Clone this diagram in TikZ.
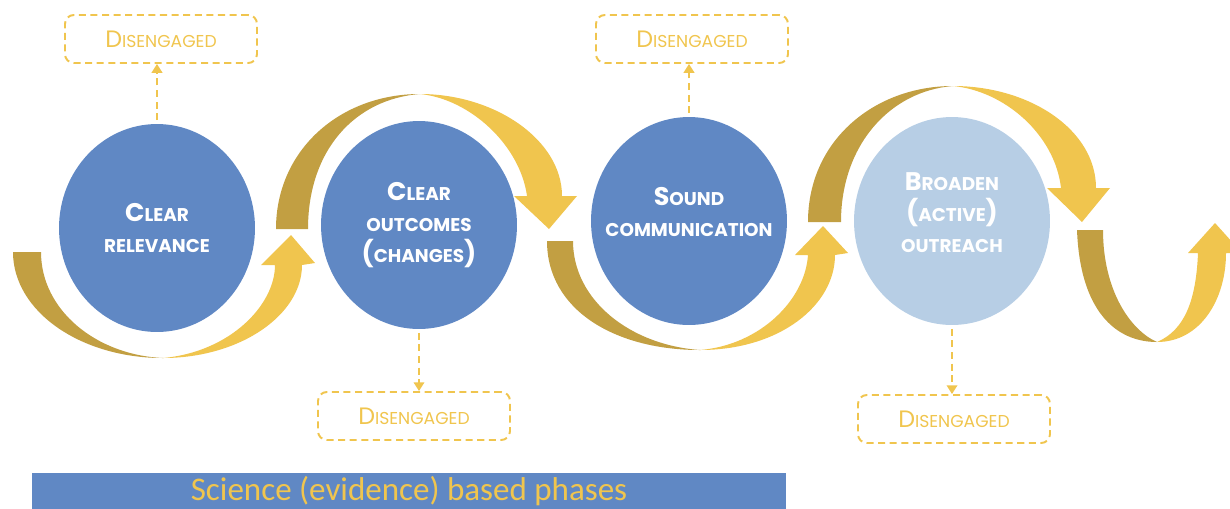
\documentclass[tikz,border=0pt]{standalone}
\usepackage{fontspec}
\usepackage{tikz}
\usetikzlibrary{shapes.geometric, arrows.meta, positioning, calc}
\newfontfamily\phasefont{Poppins}
\newfontfamily\barfont{Carlito}
\definecolor{phaseblue}{RGB}{96, 136, 196}
\definecolor{outreachblue}{RGB}{183, 206, 229}
\definecolor{ribbongold}{RGB}{194, 159, 66}
\definecolor{ribbonyellow}{RGB}{240, 197, 78}
\newcommand{\bigletter}[1]{{\fontsize{14.5}{17.6}\selectfont #1}}
\newcommand{\boxletter}[1]{{\fontsize{13.5}{16}\selectfont #1}}
\tikzstyle{phase} = [ellipse, minimum width=3.92cm, minimum height=4.16cm, inner sep=-15pt, fill=phaseblue, text=white, align=center, font=\phasefont\bfseries\fontsize{10.5}{17.6}\selectfont]
\tikzstyle{outbox} = [rectangle, rounded corners=5pt, minimum width=3.84cm, minimum height=0.96cm, draw=ribbonyellow, line width=1.1pt, dash pattern=on 4pt off 2.6pt, text=ribbonyellow, font=\phasefont\fontsize{9.8}{12}\selectfont]
\tikzstyle{dasharrow} = [line width=1.1pt, dash pattern=on 4pt off 2.6pt, draw=ribbonyellow, shorten <=2pt, -{Triangle[length=5pt, width=6pt]}]

\begin{document}
\begin{tikzpicture}[x=0.02cm, y=-0.02cm]
    \useasboundingbox (0,0) rectangle (1230,508);
    \clip (0,0) rectangle (1230,508);

    % Ribbon 1 - under the first phase
    \fill[ribbongold] (13,252) .. controls (13,311) and (80,358) .. (163,358)
        .. controls (96,355) and (41,310) .. (41,252) -- cycle;
    \fill[ribbonyellow] (163,358) .. controls (240,358) and (302,315) .. (302,265)
        -- (315,263) -- (291,235) -- (261,265) -- (275,265)
        .. controls (275,305) and (230,352) .. (163,358) -- cycle;

    % Ribbon 2 - over the second phase
    \fill[ribbongold] (276,229) .. controls (276,150) and (340,94) .. (420,94)
        .. controls (355,99) and (308,150) .. (308,229) -- cycle;
    \fill[ribbonyellow] (420,94) .. controls (495,94) and (562,140) .. (562,196)
        -- (577,196) -- (549,229) -- (514,196) -- (527,196)
        .. controls (520,145) and (470,99) .. (420,94) -- cycle;

    % Ribbon 3 - under the third phase
    \fill[ribbongold] (547,241) .. controls (547,310) and (615,350) .. (700,350)
        .. controls (630,345) and (573,300) .. (573,241) -- cycle;
    \fill[ribbonyellow] (700,350) .. controls (780,350) and (835,305) .. (835,255)
        -- (848,253) -- (823,226) -- (795,255) -- (808,255)
        .. controls (805,300) and (760,345) .. (700,350) -- cycle;

    % Ribbon 4 - over the fourth phase
    \fill[ribbongold] (808,222) .. controls (808,140) and (875,86) .. (953,86)
        .. controls (890,91) and (841,145) .. (841,222) -- cycle;
    \fill[ribbonyellow] (953,86) .. controls (1030,86) and (1096,130) .. (1096,188)
        -- (1110,188) -- (1082,222) -- (1047,188) -- (1061,188)
        .. controls (1055,135) and (1005,91) .. (953,86) -- cycle;

    % Ribbon 5 - last turn
    \fill[ribbongold] (1077,230) .. controls (1080,310) and (1115,342) .. (1157,342)
        .. controls (1130,330) and (1103,290) .. (1103,230) -- cycle;
    \fill[ribbonyellow] (1157,342) .. controls (1200,342) and (1226,300) .. (1226,253)
        -- (1242,253) -- (1215,223) -- (1188,253) -- (1198,253)
        .. controls (1196,300) and (1185,330) .. (1157,342) -- cycle;

    % Phases
    \node[phase] (relevance) at (157,228) {\bigletter{C}LEAR\\RELEVANCE};
    \node[phase] (outcomes) at (419,225) {\bigletter{C}LEAR\\OUTCOMES\\\bigletter{(}CHANGES\bigletter{)}};
    \node[phase, text depth=10pt] (communication) at (689,221) {\bigletter{S}OUND\\COMMUNICATION};
    \node[phase, text depth=10pt, fill=outreachblue] (outreach) at (952,221) {\bigletter{B}ROADEN\\\bigletter{(}ACTIVE\bigletter{)}\\OUTREACH};

    % Disengaged boxes
    \node[outbox] (drop1) at (161,39) {\boxletter{D}ISENGAGED};
    \node[outbox] (drop2) at (692,39) {\boxletter{D}ISENGAGED};
    \node[outbox] (drop3) at (414,416) {\boxletter{D}ISENGAGED};
    \node[outbox] (drop4) at (954,419) {\boxletter{D}ISENGAGED};

    % Dashed arrows
    \draw[dasharrow] (relevance.north) -- (relevance.north |- drop1.south);
    \draw[dasharrow] (outcomes.south) -- (outcomes.south |- drop3.north);
    \draw[dasharrow] (communication.north) -- (communication.north |- drop2.south);
    \draw[dasharrow] (outreach.south) -- (outreach.south |- drop4.north);

    % Bottom bar
    \node[rectangle, fill=phaseblue, minimum width=15.08cm, minimum height=0.74cm, inner sep=0pt, text=ribbonyellow, font=\barfont\fontsize{18.8}{20}\selectfont] (science) at (409,491.5) {Science (evidence) based phases};
\end{tikzpicture}
\end{document}
